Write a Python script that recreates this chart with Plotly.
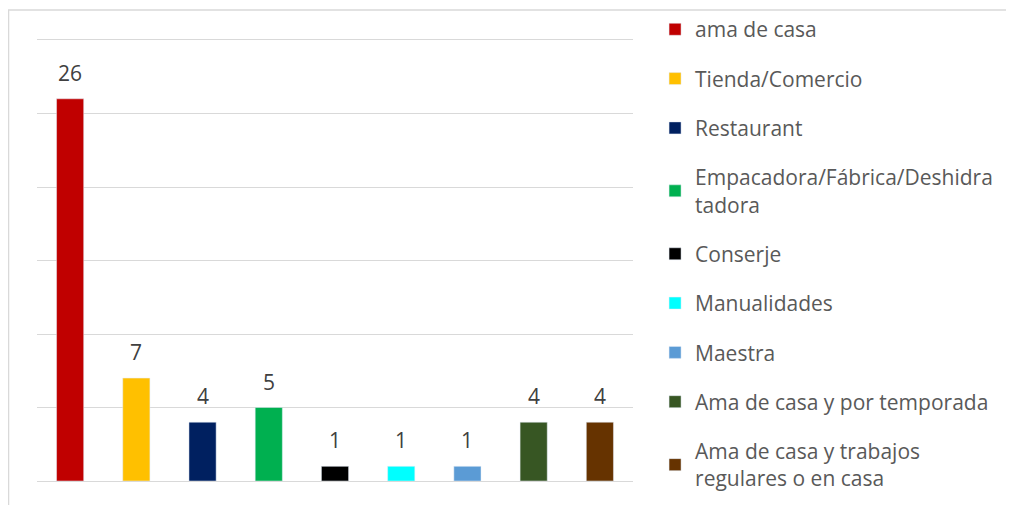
import plotly.graph_objects as go

categories = ["ama de casa", "Tienda/Comercio", "Restaurant",
              "Empacadora/Fábrica/Deshidra<br>tadora", "Conserje", "Manualidades",
              "Maestra", "Ama de casa y por temporada",
              "Ama de casa y trabajos<br>regulares o en casa"]
values = [26, 7, 4, 5, 1, 1, 1, 4, 4]
colors = ["#C00000", "#FFC000", "#002060", "#00B050", "#000000", "#00FFFF",
          "#5B9BD5", "#375623", "#663300"]

FONT = "Open Sans"
fig = go.Figure()
for i, (c, v, col) in enumerate(zip(categories, values, colors)):
    fig.add_trace(go.Bar(
        x=[i], y=[v], name=c, marker_color=col, legendgroup=str(i),
        width=0.41, hoverinfo="y",
    ))
    fig.add_annotation(x=i, y=v, text=str(v), showarrow=False,
                       yanchor="bottom", yshift=10,
                       font=dict(size=21, color="#404040", family=FONT))

# page body has an 8px margin, compensate
fig.update_layout(
    width=1014, height=505,
    margin=dict(l=29, r=389, t=32, b=32, autoexpand=False),
    plot_bgcolor="white", paper_bgcolor="white",
    barmode="overlay",
    showlegend=True,
    legend=dict(x=1.037, y=1.07, xanchor="left", yanchor="top",
                font=dict(size=21, color="#595959", family=FONT),
                tracegroupgap=19, bgcolor="rgba(0,0,0,0)", maxheight=1),
    xaxis=dict(range=[-0.5, 8.5], showticklabels=False, showgrid=False,
               zeroline=False, showline=True, mirror=True,
               linecolor="#D9D9D9", linewidth=1),
    yaxis=dict(range=[0, 30], tickvals=[0, 5, 10, 15, 20, 25, 30],
               showticklabels=False, showgrid=True,
               gridcolor="#D9D9D9", gridwidth=1, zeroline=False,
               showline=False),
    shapes=[dict(type="rect", xref="paper", yref="paper",
                 x0=-0.0478, x1=2, y0=-1, y1=1.068,
                 line=dict(color="#D9D9D9", width=1.5))],
)
fig.write_html("out.html")
